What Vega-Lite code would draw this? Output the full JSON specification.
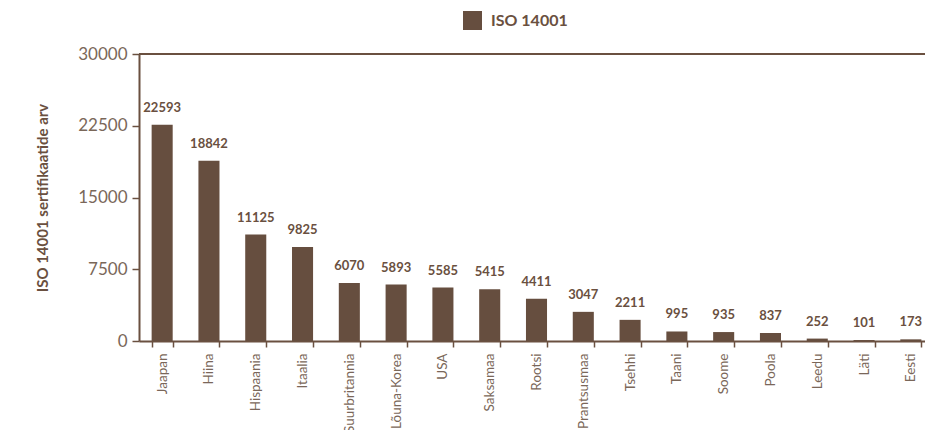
{
  "$schema": "https://vega.github.io/schema/vega-lite/v6.json",
  "width": 795,
  "height": 287,
  "autosize": {"type": "none"},
  "padding": {"left": 139, "top": 54, "right": 0, "bottom": 89},
  "background": "white",
  "config": {
    "view": {"stroke": null},
    "font": "Lato"
  },
  "data": {
    "values": [
      {"riik": "Jaapan", "arv": 22593, "seeria": "ISO 14001"},
      {"riik": "Hiina", "arv": 18842, "seeria": "ISO 14001"},
      {"riik": "Hispaania", "arv": 11125, "seeria": "ISO 14001"},
      {"riik": "Itaalia", "arv": 9825, "seeria": "ISO 14001"},
      {"riik": "Suurbritannia", "arv": 6070, "seeria": "ISO 14001"},
      {"riik": "Lõuna-Korea", "arv": 5893, "seeria": "ISO 14001"},
      {"riik": "USA", "arv": 5585, "seeria": "ISO 14001"},
      {"riik": "Saksamaa", "arv": 5415, "seeria": "ISO 14001"},
      {"riik": "Rootsi", "arv": 4411, "seeria": "ISO 14001"},
      {"riik": "Prantsusmaa", "arv": 3047, "seeria": "ISO 14001"},
      {"riik": "Tsehhi", "arv": 2211, "seeria": "ISO 14001"},
      {"riik": "Taani", "arv": 995, "seeria": "ISO 14001"},
      {"riik": "Soome", "arv": 935, "seeria": "ISO 14001"},
      {"riik": "Poola", "arv": 837, "seeria": "ISO 14001"},
      {"riik": "Leedu", "arv": 252, "seeria": "ISO 14001"},
      {"riik": "Läti", "arv": 101, "seeria": "ISO 14001"},
      {"riik": "Eesti", "arv": 173, "seeria": "ISO 14001"}
    ]
  },
  "layer": [
    {
      "mark": {"type": "rule", "color": "#6a5040", "strokeWidth": 2},
      "encoding": {
        "y": {"datum": 30000, "type": "quantitative"}
      }
    },
    {
      "mark": {"type": "bar", "color": "#664e3f"},
      "encoding": {
        "x": {
          "field": "riik",
          "type": "nominal",
          "sort": null,
          "scale": {"paddingInner": 0.55, "paddingOuter": 0.27},
          "axis": {
            "title": null,
            "labelAngle": -90,
            "labelAlign": "right",
            "labelBaseline": "middle",
            "labelFontSize": 13.5,
            "labelColor": "#7a6759",
            "labelPadding": 6,
            "labelFont": "Lato",
            "tickBand": "extent",
            "tickColor": "#6a5040",
            "tickSize": 6,
            "tickWidth": 1.5,
            "domainColor": "#6a5040",
            "domainWidth": 2
          }
        },
        "y": {
          "field": "arv",
          "type": "quantitative",
          "scale": {"domain": [0, 30000], "nice": false},
          "axis": {
            "values": [0, 7500, 15000, 22500, 30000],
            "format": "d",
            "title": "ISO 14001 sertifikaatide arv",
            "titleFont": "Lato",
            "titleFontSize": 15,
            "titleFontWeight": "bold",
            "titleColor": "#6a5040",
            "titleX": -97,
            "titleY": 143.5,
            "titleAngle": -90,
            "titleAlign": "center",
            "titleBaseline": "middle",
            "labelFontSize": 17,
            "labelColor": "#7a6759",
            "labelFont": "Lato",
            "labelPadding": 5,
            "tickColor": "#6a5040",
            "tickSize": 7,
            "tickWidth": 1.5,
            "domainColor": "#6a5040",
            "domainWidth": 2,
            "grid": false
          }
        },
        "fill": {
          "field": "seeria",
          "type": "nominal",
          "scale": {"range": ["#664e3f"]},
          "legend": {
            "title": null,
            "orient": "none",
            "legendX": 323,
            "legendY": -44,
            "symbolType": "square",
            "symbolSize": 360,
            "labelFontSize": 16,
            "labelFontWeight": "bold",
            "labelColor": "#6a5040",
            "labelFont": "Lato",
            "labelOffset": 8
          }
        }
      }
    },
    {
      "mark": {"type": "text", "baseline": "bottom", "dy": -10, "fontSize": 13, "fontWeight": "bold", "color": "#6a5040", "font": "Lato"},
      "encoding": {
        "x": {"field": "riik", "type": "nominal", "sort": null},
        "y": {"field": "arv", "type": "quantitative"},
        "text": {"field": "arv", "type": "quantitative", "format": "d"}
      }
    }
  ]
}
